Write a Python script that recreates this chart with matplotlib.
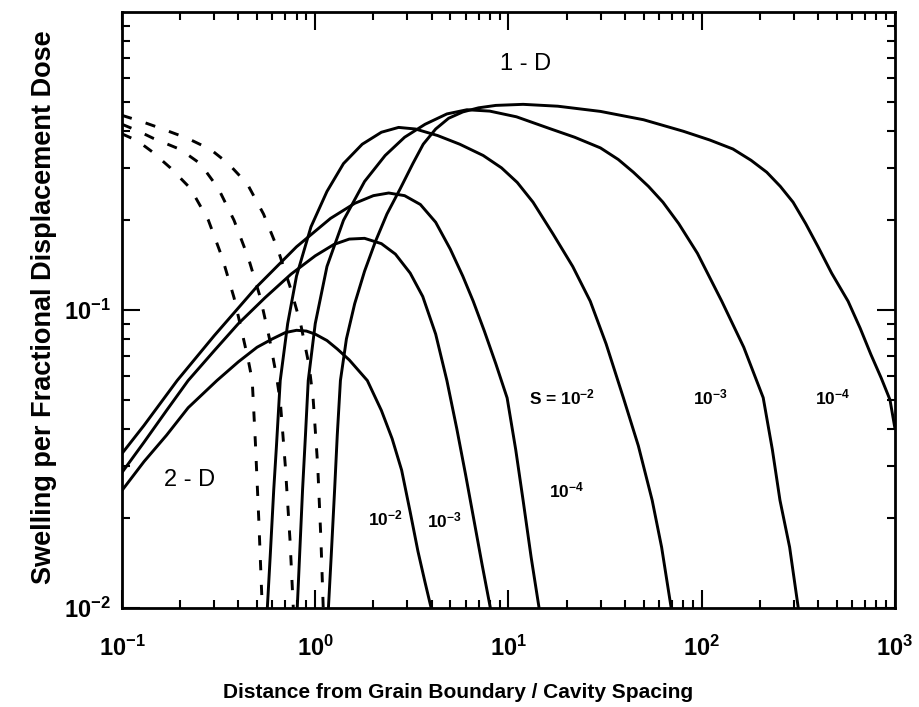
import matplotlib
matplotlib.use("Agg")
import matplotlib.pyplot as plt
from matplotlib.ticker import LogLocator, NullFormatter, FixedLocator

plt.rcParams['font.family'] = ['Liberation Sans', 'DejaVu Sans']
plt.rcParams['mathtext.fontset'] = 'custom'
plt.rcParams['mathtext.rm'] = 'Liberation Sans:bold'
plt.rcParams['mathtext.it'] = 'Liberation Sans:bold'
plt.rcParams['mathtext.bf'] = 'Liberation Sans:bold'

# ---- 2-D geometry, solid curves (sink strength S = 1e-2, 1e-3, 1e-4) ----
x_2d_s2 = [0.1, 0.13, 0.17, 0.22, 0.31, 0.4, 0.5, 0.6, 0.7, 0.8, 0.9, 1.0, 1.15, 1.3, 1.5, 1.86, 2.2, 2.5, 2.8, 3.1, 3.4, 3.7, 3.98]
y_2d_s2 = [0.0248, 0.031, 0.038, 0.047, 0.058, 0.067, 0.075, 0.080, 0.084, 0.0855, 0.085, 0.083, 0.079, 0.074, 0.068, 0.058, 0.046, 0.037, 0.029, 0.021, 0.0155, 0.0122, 0.010]

x_2d_s3 = [0.1, 0.13, 0.17, 0.22, 0.3, 0.4, 0.55, 0.75, 1.0, 1.25, 1.5, 1.8, 2.2, 2.6, 3.1, 3.6, 4.2, 4.8, 5.4, 6.0, 6.6, 7.3, 8.06]
y_2d_s3 = [0.0285, 0.036, 0.046, 0.058, 0.073, 0.09, 0.11, 0.132, 0.152, 0.166, 0.173, 0.174, 0.167, 0.154, 0.133, 0.111, 0.083, 0.058, 0.040, 0.028, 0.020, 0.014, 0.010]

x_2d_s4 = [0.1, 0.13, 0.193, 0.3, 0.5, 0.8, 1.2, 1.6, 2.0, 2.4, 2.9, 3.5, 4.2, 5.0, 5.8, 6.57, 7.5, 8.6, 9.84, 10.9, 11.9, 13.1, 14.4]
y_2d_s4 = [0.033, 0.041, 0.058, 0.082, 0.12, 0.163, 0.203, 0.228, 0.242, 0.247, 0.242, 0.226, 0.197, 0.16, 0.13, 0.107, 0.085, 0.066, 0.0507, 0.034, 0.023, 0.0148, 0.010]

# ---- 1-D geometry, solid curves ----
x_1d_s2 = [0.565, 0.585, 0.61, 0.63, 0.659, 0.72, 0.8, 0.95, 1.15, 1.4, 1.75, 2.2, 2.7, 3.3, 4.3, 5.6, 7.4, 9.2, 11.1, 13.4, 17, 21.5, 26.5, 32, 39.3, 47, 55.4, 62, 69.5]
y_1d_s2 = [0.01, 0.015, 0.025, 0.035, 0.058, 0.09, 0.13, 0.19, 0.25, 0.31, 0.36, 0.395, 0.41, 0.405, 0.385, 0.36, 0.33, 0.30, 0.268, 0.23, 0.18, 0.14, 0.107, 0.077, 0.0508, 0.035, 0.023, 0.016, 0.01]

x_1d_s3 = [0.807, 0.83, 0.86, 0.89, 0.92, 1.0, 1.15, 1.4, 1.8, 2.3, 2.9, 3.7, 4.8, 6.1, 8, 11, 16.4, 22, 29.9, 37, 44.3, 53, 63, 76, 95, 127, 165, 208, 232, 254, 285, 316]
y_1d_s3 = [0.01, 0.015, 0.025, 0.038, 0.058, 0.09, 0.14, 0.2, 0.27, 0.33, 0.38, 0.42, 0.455, 0.47, 0.465, 0.445, 0.406, 0.38, 0.35, 0.32, 0.29, 0.26, 0.23, 0.195, 0.155, 0.107, 0.075, 0.0508, 0.034, 0.023, 0.016, 0.01]

x_1d_s4 = [1.17, 1.21, 1.26, 1.3, 1.35, 1.45, 1.6, 1.8, 2.05, 2.35, 2.75, 3.2, 3.62, 4.2, 4.9, 5.8, 7.0, 8.6, 11.9, 18, 29.9, 50, 80.3, 110, 145, 180, 217, 255, 297, 345, 400, 470, 572, 660, 750, 850, 942, 1000]
y_1d_s4 = [0.01, 0.015, 0.025, 0.038, 0.058, 0.08, 0.105, 0.135, 0.17, 0.21, 0.255, 0.31, 0.36, 0.405, 0.44, 0.462, 0.477, 0.486, 0.49, 0.483, 0.464, 0.435, 0.398, 0.372, 0.347, 0.318, 0.29, 0.26, 0.23, 0.195, 0.163, 0.133, 0.107, 0.087, 0.071, 0.059, 0.05, 0.040]

# ---- dashed curves ----
x_dash_a = [0.1, 0.12, 0.143, 0.178, 0.226, 0.28, 0.33, 0.38, 0.42, 0.45, 0.472, 0.49, 0.51, 0.532]
y_dash_a = [0.39, 0.37, 0.34, 0.30, 0.256, 0.2, 0.15, 0.11, 0.083, 0.068, 0.058, 0.036, 0.02, 0.01]

x_dash_b = [0.1, 0.12, 0.145, 0.20, 0.254, 0.315, 0.38, 0.45, 0.52, 0.58, 0.63, 0.66, 0.7, 0.74, 0.77]
y_dash_b = [0.42, 0.40, 0.377, 0.346, 0.31, 0.256, 0.2, 0.15, 0.11, 0.08, 0.06, 0.049, 0.03, 0.017, 0.01]

x_dash_c = [0.1, 0.125, 0.154, 0.218, 0.287, 0.355, 0.445, 0.54, 0.64, 0.74, 0.84, 0.93, 0.976, 1.03, 1.07, 1.10]
y_dash_c = [0.45, 0.43, 0.41, 0.377, 0.346, 0.31, 0.265, 0.21, 0.16, 0.12, 0.09, 0.065, 0.05, 0.03, 0.017, 0.01]

x_tick_labels = [r'$10^{-1}$', r'$10^{0}$', r'$10^{1}$', r'$10^{2}$', r'$10^{3}$']
y_tick_labels = [r'$10^{-2}$', r'$10^{-1}$']

fig = plt.figure(figsize=(9.2, 7.07), dpi=100)
ax = fig.add_axes([0.1326, 0.140, 0.8402, 0.843])

lw = 2.1
solid = [(x_2d_s2, y_2d_s2), (x_2d_s3, y_2d_s3), (x_2d_s4, y_2d_s4),
         (x_1d_s2, y_1d_s2), (x_1d_s3, y_1d_s3), (x_1d_s4, y_1d_s4)]
for xs, ys in solid:
    ax.plot(xs, ys, color='black', lw=lw, solid_capstyle='round', solid_joinstyle='round')
for xs, ys in [(x_dash_a, y_dash_a), (x_dash_b, y_dash_b), (x_dash_c, y_dash_c)]:
    ax.plot(xs, ys, color='black', lw=lw, linestyle=(0, (3.5, 5)))

ax.set_xscale('log')
ax.set_yscale('log')
ax.set_xlim(0.1, 1000)
ax.set_ylim(0.01, 1.0)

ax.xaxis.set_major_locator(FixedLocator([0.1, 1, 10, 100, 1000]))
ax.set_xticklabels(x_tick_labels)
ax.yaxis.set_major_locator(FixedLocator([0.01, 0.1]))
ax.set_yticklabels(y_tick_labels)
ax.xaxis.set_minor_locator(LogLocator(base=10, subs=range(2, 10)))
ax.yaxis.set_minor_locator(LogLocator(base=10, subs=range(2, 10)))
ax.xaxis.set_minor_formatter(NullFormatter())
ax.yaxis.set_minor_formatter(NullFormatter())

ax.tick_params(which='both', direction='in', top=True, right=True, width=1.5, color='black')
ax.tick_params(which='major', length=13)
ax.tick_params(which='minor', length=6)
ax.tick_params(axis='x', which='major', pad=20, labelsize=17)
ax.tick_params(axis='y', which='major', pad=8, labelsize=17)
for sp in ax.spines.values():
    sp.set_linewidth(2.0)

ax.set_xlabel('Distance from Grain Boundary / Cavity Spacing', fontsize=15, fontweight='bold')
ax.xaxis.set_label_coords(0.435, -0.125)
ax.set_ylabel('Swelling per Fractional Displacement Dose', fontsize=19.5, fontweight='bold')
ax.yaxis.set_label_coords(-0.084, 0.505)

ax.text(12.2, 0.67, '1 - D', fontsize=17, ha='center', va='center')
ax.text(0.225, 0.0268, '2 - D', fontsize=17, ha='center', va='center')
ax.text(19.0, 0.0508, r'S = $10^{-2}$', fontsize=12.5, fontweight='bold', ha='center', va='center')
ax.text(110.7, 0.0508, r'$10^{-3}$', fontsize=12.5, ha='center', va='center')
ax.text(473, 0.0508, r'$10^{-4}$', fontsize=12.5, ha='center', va='center')
ax.text(2.30, 0.020, r'$10^{-2}$', fontsize=12.5, ha='center', va='center')
ax.text(4.65, 0.0197, r'$10^{-3}$', fontsize=12.5, ha='center', va='center')
ax.text(20.1, 0.0248, r'$10^{-4}$', fontsize=12.5, ha='center', va='center')

fig.savefig('out.png', dpi=100)
